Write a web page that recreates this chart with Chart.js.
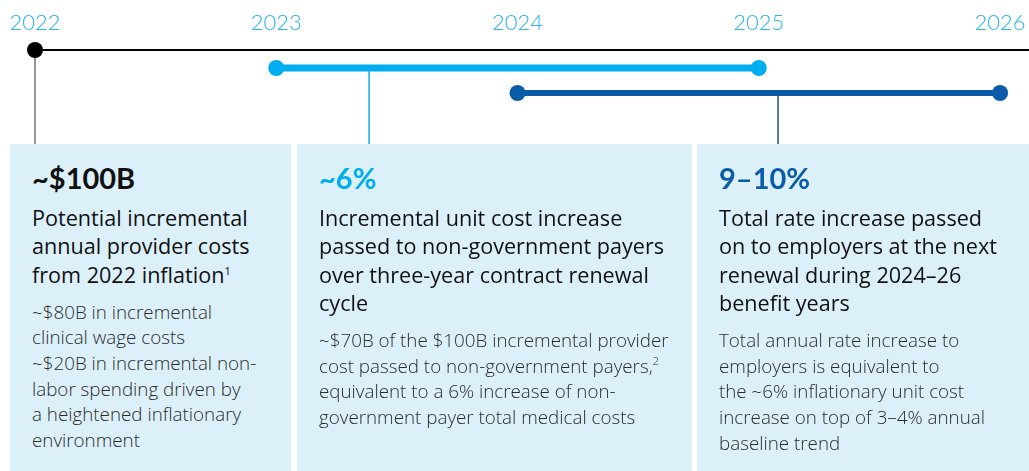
<!DOCTYPE html>
<html lang="en">
<head>
    <meta charset="UTF-8">
    <title>Provider cost inflation timeline</title>
    <style>
        body {
            margin: 0;
            padding: 0;
            background: #fff;
            font-family: "Open Sans", Lato, sans-serif;
            width: 1029px;
            height: 471px;
            overflow: hidden;
            position: relative;
        }
        #timeline_wrap {
            position: absolute;
            left: 0;
            top: 0;
            width: 1029px;
            height: 145px;
        }
        .card {
            position: absolute;
            top: 144px;
            height: 327px;
            background: #dcf0fa;
            box-sizing: border-box;
            padding: 17px 0 0 22px;
            white-space: nowrap;
        }
        .card .big {
            font-family: Lato, sans-serif;
            font-size: 29px;
            line-height: 34px;
            font-weight: 700;
            margin: 0;
        }
        .card .sub {
            font-size: 21.6px;
            line-height: 28.3px;
            font-weight: 500;
            color: #111;
            margin: 9px 0 0;
        }
        .card .body {
            font-size: 18.8px;
            line-height: 25.6px;
            font-weight: 300;
            color: #2b2b2b;
            margin: 11px 0 0;
        }
        sup { font-size: 11px; line-height: 0; vertical-align: 8px; }
    </style>
</head>
<body>
    <div id="timeline_wrap"><canvas id="timeline"></canvas></div>
    <div id="cards"></div>

    <script src="https://cdn.jsdelivr.net/npm/chart.js"></script>
    <script>
        // タイムラインのデータ
        const years = [2022, 2023, 2024, 2025, 2026];
        const timelineEnd = 2026.12;
        const contractCycle = [2023, 2025];   // 3年契約更新サイクル
        const benefitYears = [2024, 2026];    // 2024–26 benefit years
        const connectorYears = [2022, 2023.385, 2025.08];
        const lanes = [0, 0.72, 1.72];        // baseline / contract / benefit
        const laneBottom = 3.8;

        // カードのテキスト
        const cardHeadlines = ['~$100B', '~6%', '9–10%'];
        const cardTitles = [
            'Potential incremental<br>annual provider costs<br>from 2022 inflation<sup>1</sup>',
            'Incremental unit cost increase<br>passed to non-government payers<br>over three-year contract renewal<br>cycle',
            'Total rate increase passed<br>on to employers at the next<br>renewal during 2024–26<br>benefit years'
        ];
        const cardBodies = [
            '~$80B in incremental<br>clinical wage costs<br>~$20B in incremental non-<br>labor spending driven by<br>a heightened inflationary<br>environment',
            '~$70B of the $100B incremental provider<br>cost passed to non-government payers,<sup>2</sup><br>equivalent to a 6% increase of non-<br>government payer total medical costs',
            'Total annual rate increase to<br>employers is equivalent to<br>the ~6% inflationary unit cost<br>increase on top of 3–4% annual<br>baseline trend'
        ];
        const cardColors = ['#111111', '#00aeef', '#0b5ca8'];
        const cardLeft = [10, 297, 697];
        const cardWidth = [281, 395, 332];

        const cards = document.getElementById('cards');
        cardHeadlines.forEach((h, i) => {
            const card = document.createElement('div');
            card.className = 'card';
            card.style.left = cardLeft[i] + 'px';
            card.style.width = cardWidth[i] + 'px';
            card.innerHTML =
                `<p class="big" style="color:${cardColors[i]}">${h}</p>` +
                `<p class="sub">${cardTitles[i]}</p>` +
                `<p class="body">${cardBodies[i]}</p>`;
            cards.appendChild(card);
        });

        const connector = (x, lane, color) => ({
            data: [{ x: x, y: lane }, { x: x, y: laneBottom }],
            borderColor: color,
            borderWidth: 1,
            pointRadius: 0,
            order: 5
        });

        const ctx = document.getElementById('timeline').getContext('2d');
        new Chart(ctx, {
            type: 'line',
            data: {
                datasets: [
                    {
                        data: [{ x: years[0], y: lanes[0] }, { x: timelineEnd, y: lanes[0] }],
                        borderColor: '#000',
                        borderWidth: 2,
                        pointRadius: [8, 0],
                        pointBackgroundColor: '#000',
                        pointBorderWidth: 0,
                        order: 1
                    },
                    {
                        data: contractCycle.map(x => ({ x: x, y: lanes[1] })),
                        borderColor: '#00aeef',
                        borderWidth: 7,
                        pointRadius: 8,
                        pointBackgroundColor: '#00aeef',
                        pointBorderWidth: 0,
                        order: 1
                    },
                    {
                        data: benefitYears.map(x => ({ x: x, y: lanes[2] })),
                        borderColor: '#0b5ca8',
                        borderWidth: 6,
                        pointRadius: 8,
                        pointBackgroundColor: '#0b5ca8',
                        pointBorderWidth: 0,
                        order: 1
                    },
                    connector(connectorYears[0], lanes[0], '#888888'),
                    connector(connectorYears[1], lanes[1], '#29b5e8'),
                    connector(connectorYears[2], lanes[2], '#3a6aa0')
                ]
            },
            options: {
                responsive: true,
                maintainAspectRatio: false,
                animation: false,
                layout: { autoPadding: false, padding: { left: 35, right: 0, top: 0, bottom: 0 } },
                datasets: { line: { clip: false } },
                plugins: { legend: { display: false }, tooltip: { enabled: false } },
                scales: {
                    x: {
                        type: 'linear',
                        position: 'top',
                        min: years[0],
                        max: timelineEnd,
                        grid: { display: false, drawTicks: false },
                        border: { display: false },
                        afterBuildTicks: scale => { scale.ticks = years.map(v => ({ value: v })); },
                        afterFit: scale => { scale.height = 38; },
                        ticks: {
                            color: '#29b5e8',
                            padding: 2,
                            maxRotation: 0,
                            autoSkip: false,
                            font: { family: 'Lato', size: 22, weight: '300' },
                            callback: v => String(v)
                        }
                    },
                    y: {
                        type: 'linear',
                        display: false,
                        reverse: true,
                        min: -0.48,
                        max: laneBottom
                    }
                }
            }
        });
    </script>
</body>
</html>
